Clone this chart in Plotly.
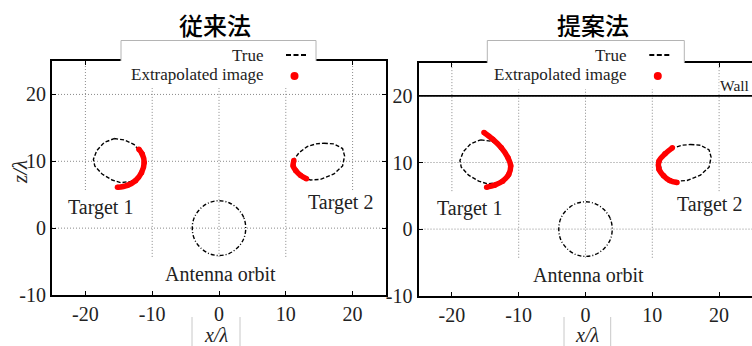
import plotly.graph_objects as go

W, H = 752, 346

# ---------------- data ----------------
panel_titles = ["従来法", "提案法"]
x_tick_vals = [-20, -10, 0, 10, 20]
x_tick_text = ["-20", "-10", "0", "10", "20"]
z_tick_vals = [-10, 0, 10, 20]
z_tick_text = ["-10", "0", "10", "20"]

# true shape of target 1 (dashed ellipse)
true1_x = [-15.7, -14.2, -12.7, -11.7, -11.1, -11.3, -12.0, -13.2, -14.7, -16.0, -17.5, -18.6, -18.8, -18.3, -17.2, -15.7]
true1_z = [13.4, 13.2, 12.5, 11.3, 10.1, 8.8, 7.6, 7.0, 6.8, 7.2, 8.1, 9.3, 10.3, 11.6, 12.8, 13.4]
# true shape of target 2
true2_x = [15.7, 17.2, 18.5, 18.8, 18.5, 17.2, 15.2, 13.7, 12.4, 11.4, 11.1, 12.0, 13.2, 14.5, 15.7]
true2_z = [12.7, 12.6, 11.9, 10.8, 9.3, 8.1, 7.3, 7.2, 7.6, 8.6, 10.1, 11.3, 12.2, 12.6, 12.7]
# antenna orbit
orbit_x = [4.0, 3.7, 2.8, 1.5, 0.0, -1.5, -2.8, -3.7, -4.0, -3.7, -2.8, -1.5, 0.0, 1.5, 2.8, 3.7, 4.0]
orbit_z = [0.0, 1.6, 2.9, 3.8, 4.1, 3.8, 2.9, 1.6, 0.0, -1.6, -2.9, -3.8, -4.1, -3.8, -2.9, -1.6, 0.0]

# extrapolated images, conventional method
conv1_x = [-15.2, -13.7, -12.5, -11.6, -11.2, -11.5, -12.0]
conv1_z = [6.1, 6.4, 7.1, 8.3, 9.8, 11.1, 11.8]
conv2_x = [11.2, 11.1, 11.5, 12.2, 13.1]
conv2_z = [10.1, 9.3, 8.6, 7.9, 7.4]
# extrapolated images, proposed method
prop1_x = [-15.2, -13.9, -12.6, -11.6, -11.2, -11.5, -12.4, -13.6, -14.8]
prop1_z = [14.5, 13.5, 12.2, 10.7, 9.5, 8.2, 7.2, 6.6, 6.3]
prop2_x = [13.0, 11.9, 11.0, 11.0, 11.7, 12.6, 13.7]
prop2_z = [12.2, 11.3, 10.2, 9.0, 8.0, 7.3, 7.0]

wall_z = 20
labels = ["Target 1", "Target 2", "Antenna orbit"]
label_pos_conv = [(-17.7, 3.1), (18.2, 3.9), (0.25, -6.9)]
label_pos_prop = [(-17.3, 3.1), (18.6, 3.7), (0.4, -6.9)]

# ---------------- layout helpers ----------------
def px(xp):
    return xp / W

def py(yp):
    return (H - yp) / H

SERIF = "Liberation Serif, Times New Roman, serif"
GRID = "#8a8a8a"

fig = go.Figure()

panels = [
    dict(xa="x", ya="y", xd=[px(52), px(386)], yd=[py(295), py(61)], xr=[-25, 25],
         red=[(conv1_x, conv1_z), (conv2_x, conv2_z)], lab=label_pos_conv,
         title_x=215, legend=(121, 316), xlab=(192, 240)),
    dict(xa="x2", ya="y2", xd=[px(418.5), 1.0], yd=[py(295.7), py(62.6)], xr=[-25, -25 + 333.5 / 6.68],
         red=[(prop1_x, prop1_z), (prop2_x, prop2_z)], lab=label_pos_prop,
         title_x=592.5, legend=(487.3, 684.3), xlab=(564, 610.7)),
]

shapes = []
annotations = []

for i, p in enumerate(panels):
    xa, ya = p["xa"], p["ya"]
    # gridlines (segments, as in the original figure)
    for xv in x_tick_vals:
        if abs(xv) == 20:
            z0, z1 = 5.7, 25
        else:
            z0, z1 = -4.3, 21
        shapes.append(dict(type="line", xref=xa, yref=ya, x0=xv, x1=xv, y0=z0, y1=z1,
                           line=dict(color=GRID, width=1, dash="1px,2px"), layer="below"))
    for zv in z_tick_vals[1:]:
        shapes.append(dict(type="line", xref=xa, yref=ya, x0=-25, x1=25, y0=zv, y1=zv,
                           line=dict(color=GRID, width=1, dash="1px,2px"), layer="below"))

    # true shapes
    fig.add_trace(go.Scatter(x=true1_x, y=true1_z, mode="lines", xaxis=xa, yaxis=ya,
                             line=dict(color="black", width=1.4, dash="4px,2px"), showlegend=False))
    fig.add_trace(go.Scatter(x=true2_x, y=true2_z, mode="lines", xaxis=xa, yaxis=ya,
                             line=dict(color="black", width=1.4, dash="4px,2px"), showlegend=False))
    fig.add_trace(go.Scatter(x=orbit_x, y=orbit_z, mode="lines", xaxis=xa, yaxis=ya, line_shape="spline",
                             line=dict(color="black", width=1.4, dash="4px,2px,1px,2px"), showlegend=False))
    for rx, rz in p["red"]:
        fig.add_trace(go.Scatter(x=rx, y=rz, mode="lines+markers", xaxis=xa, yaxis=ya, line_shape="spline",
                                 line=dict(color="#ff0000", width=5.5), marker=dict(color="#ff0000", size=5.5),
                                 showlegend=False))

    if i == 1:
        shapes.append(dict(type="line", xref=xa, yref=ya, x0=-25, x1=25, y0=wall_z, y1=wall_z,
                           line=dict(color="black", width=1.6)))
        annotations.append(dict(text="Wall", xref="paper", yref="paper", x=px(718.5), y=py(85),
                                xanchor="left", yanchor="middle", showarrow=False, bgcolor="white",
                                borderpad=0, font=dict(family=SERIF, size=15.5, color="#222")))

    for txt, (lx, lz) in zip(labels, p["lab"]):
        annotations.append(dict(text=txt, xref=xa, yref=ya, x=lx, y=lz, showarrow=False,
                                font=dict(family=SERIF, size=20, color="#222")))

    # legend box
    l0, l1 = p["legend"]
    shapes.append(dict(type="rect", xref="paper", yref="paper", x0=px(l0), x1=px(l1), y0=py(88), y1=py(40.5),
                       fillcolor="white", line=dict(width=0), layer="above"))
    ytop = 61 if i == 0 else 62.6
    shapes.append(dict(type="path", xref="paper", yref="paper",
                       path=f"M {px(l0)},{py(ytop)} L {px(l0)},{py(40.5)} L {px(l1)},{py(40.5)} L {px(l1)},{py(ytop)}",
                       line=dict(color="#b4b4b4", width=1), layer="above"))
    lx_right = l0 + 145 if i == 0 else l0 + 142
    annotations.append(dict(text="True", xref="paper", yref="paper", x=px(lx_right), y=py(55),
                            xanchor="right", yanchor="middle", showarrow=False,
                            font=dict(family=SERIF, size=17, color="#222")))
    annotations.append(dict(text="Extrapolated image", xref="paper", yref="paper", x=px(lx_right), y=py(75),
                            xanchor="right", yanchor="middle", showarrow=False,
                            font=dict(family=SERIF, size=17, color="#222")))
    sx = lx_right + 20
    shapes.append(dict(type="line", xref="paper", yref="paper", x0=px(sx), x1=px(sx + 20), y0=py(55), y1=py(55),
                       line=dict(color="black", width=2, dash="5px,2.5px"), layer="above"))
    cx = sx + 8.5
    shapes.append(dict(type="circle", xref="paper", yref="paper", x0=px(cx - 4), x1=px(cx + 4),
                       y0=py(76 + 4), y1=py(76 - 4), fillcolor="#ff0000", line=dict(width=0), layer="above"))

    # title
    annotations.append(dict(text=panel_titles[i], xref="paper", yref="paper", x=px(p["title_x"]), y=py(25),
                            xanchor="center", yanchor="middle", showarrow=False,
                            font=dict(family="Noto Sans CJK JP", size=24, color="black", weight=500)))
    # x label box
    b0, b1 = p["xlab"]
    shapes.append(dict(type="line", xref="paper", yref="paper", x0=px(b0), x1=px(b0), y0=py(317), y1=0,
                       line=dict(color="#c8c8c8", width=1)))
    shapes.append(dict(type="line", xref="paper", yref="paper", x0=px(b1), x1=px(b1), y0=py(317), y1=0,
                       line=dict(color="#c8c8c8", width=1)))
    annotations.append(dict(text="x/λ", xref="paper", yref="paper", x=px((b0 + b1) / 2), y=py(335),
                            xanchor="center", yanchor="middle", showarrow=False,
                            font=dict(family=SERIF, size=20, color="#222", style="italic")))

annotations.append(dict(text="z/λ", xref="paper", yref="paper", x=px(20), y=py(172), textangle=-90,
                        xanchor="center", yanchor="middle", showarrow=False,
                        font=dict(family=SERIF, size=21, color="#222", style="italic")))

axis_common = dict(showgrid=False, zeroline=False, showline=True, mirror="allticks", linecolor="black",
                   linewidth=2, ticks="inside", ticklen=4, tickwidth=1, tickcolor="black",
                   tickfont=dict(family=SERIF, size=20, color="#222"), fixedrange=True, automargin=False)
axis_right = dict(axis_common, mirror=False)

fig.update_layout(
    width=W, height=H, autosize=False, margin=dict(l=0, r=0, t=0, b=0, pad=0, autoexpand=False),
    paper_bgcolor="white", plot_bgcolor="white", showlegend=False,
    xaxis=dict(domain=panels[0]["xd"], range=panels[0]["xr"], tickvals=x_tick_vals, ticktext=x_tick_text,
               anchor="y", **axis_common),
    yaxis=dict(domain=panels[0]["yd"], range=[-10, 25], tickvals=z_tick_vals, ticktext=z_tick_text,
               anchor="x", **axis_common),
    xaxis2=dict(domain=panels[1]["xd"], range=panels[1]["xr"], tickvals=x_tick_vals, ticktext=x_tick_text,
                anchor="y2", **axis_common),
    yaxis2=dict(domain=panels[1]["yd"], range=[-10, 25], tickvals=z_tick_vals, ticktext=z_tick_text,
                anchor="x2", **axis_right),
    shapes=shapes, annotations=annotations,
)

fig.write_html("out.html", config={"displayModeBar": False, "responsive": False},
               post_script="document.body.style.margin='0px';document.body.style.overflow='hidden';")
